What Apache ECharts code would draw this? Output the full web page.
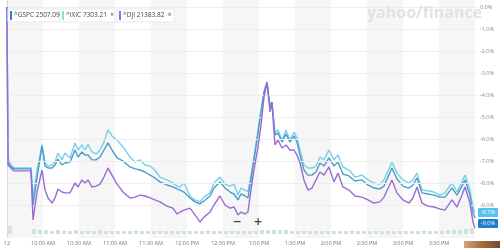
<!DOCTYPE html>
<html><head><meta charset="utf-8">
<script src="https://cdn.jsdelivr.net/npm/echarts@6/dist/echarts.min.js"></script>
<style>html,body{margin:0;padding:0;background:#fff}#c{width:500px;height:248px}</style>
</head><body><div id="c"></div>
<script>
// minutes since 9:30 AM
const times = [0,0.8,3.3,5.8,12.5,20,21.7,25,29.2,31.7,34.2,37.5,40,42.5,45.8,48.3,52.5,56.7,59.2,62.5,65,67.5,70.8,74.2,77.5,80.8,84.2,87.5,91.7,96.7,102.5,106.7,110.8,115,119.2,123.3,127.5,133.3,138.3,141.7,144.2,147.5,152.5,156.7,160.8,164.2,169.2,172.5,177.5,181.7,185.8,189.2,192.5,195,198.3,200.8,203.3,205.8,209.2,211.7,214.2,216.7,219.2,220.8,223.3,225.8,229.2,232.5,235.8,239.2,241.7,244.2,247.5,250.8,254.2,257.5,260.8,264.2,268.3,272.5,275.8,280,285,290,295.8,300.8,305.8,310.8,314.2,320.8,325,330,335,338.3,341.7,345.8,350.8,355.8,360.8,365,370.8,375,379.2,381.7,385.8,388.3,390];

const ixic = [0,-6.86,-7.18,-7.32,-7.32,-7.32,-8.64,-7.41,-6.27,-7.09,
-7.23,-7.18,-7.05,-6.64,-6.95,-6.64,-6.86,-6.18,-6.50,-6.27,
-6.50,-6.23,-6.59,-6.68,-6.50,-6.14,-5.59,-5.86,-6.05,-6.36,
-6.82,-7.05,-6.95,-7.18,-7.23,-7.41,-7.73,-7.86,-8.00,-8.14,
-8.18,-8.00,-8.59,-8.77,-8.86,-8.64,-8.45,-8.00,-7.73,-8.05,
-8.14,-8.05,-8.55,-8.23,-8.32,-8.41,-7.64,-6.86,-5.59,-4.68,
-3.86,-3.41,-4.55,-4.32,-5.73,-5.59,-6.05,-5.59,-6.05,-5.68,
-5.95,-6.50,-7.18,-7.32,-7.32,-7.23,-6.82,-6.95,-6.50,-6.95,
-6.73,-7.27,-7.41,-7.73,-7.64,-7.86,-8.00,-8.05,-7.86,-7.05,
-7.55,-7.86,-8.00,-7.86,-7.55,-8.32,-8.36,-8.41,-8.55,-8.45,
-8.00,-8.41,-7.95,-7.64,-8.32,-9.09,-9.36];

const gspc = [0,-7.05,-7.27,-7.36,-7.36,-7.36,-9.00,-7.77,-6.32,-7.23,
-7.32,-7.32,-7.18,-6.91,-7.18,-7.09,-7.05,-6.50,-6.82,-6.59,
-6.73,-6.73,-6.95,-6.95,-6.82,-6.50,-6.18,-6.50,-6.86,-7.00,
-7.27,-7.36,-7.41,-7.50,-7.64,-7.77,-7.95,-8.09,-8.18,-8.27,
-8.32,-8.41,-8.68,-8.86,-8.95,-8.82,-8.59,-8.23,-7.95,-8.23,
-8.41,-8.50,-8.77,-8.50,-8.59,-8.68,-7.86,-6.95,-5.73,-4.77,
-3.86,-3.41,-4.55,-4.32,-5.82,-5.73,-6.14,-5.77,-6.14,-5.86,
-6.14,-6.73,-7.41,-7.64,-7.64,-7.50,-7.09,-7.23,-6.86,-7.23,
-7.05,-7.59,-7.68,-7.91,-7.86,-8.09,-8.23,-8.27,-8.14,-7.32,
-7.82,-8.14,-8.23,-8.09,-7.77,-8.45,-8.50,-8.55,-8.64,-8.64,
-8.23,-8.55,-8.14,-7.86,-8.55,-9.36,-9.59];

const dji = [0,-7.18,-7.32,-7.45,-7.45,-7.45,-9.68,-8.41,-7.41,-8.32,
-8.68,-8.91,-8.68,-8.27,-8.41,-8.45,-8.45,-8.00,-8.18,-7.86,
-8.00,-7.86,-8.18,-8.14,-8.05,-7.73,-7.32,-7.64,-8.05,-8.41,
-8.68,-8.64,-8.55,-8.59,-8.68,-8.77,-8.86,-9.05,-9.14,-9.41,
-9.32,-9.23,-9.14,-9.45,-9.77,-9.55,-9.32,-9.00,-8.59,-9.00,
-9.14,-9.09,-9.45,-9.32,-9.41,-9.32,-8.32,-7.41,-6.36,-5.36,
-4.09,-3.45,-4.77,-4.36,-6.27,-6.05,-6.41,-6.27,-6.50,-6.50,
-6.73,-7.09,-7.86,-8.32,-8.23,-7.86,-7.50,-7.64,-7.27,-7.95,
-7.55,-8.18,-8.32,-8.59,-8.64,-8.77,-8.91,-8.86,-8.64,-7.86,
-8.45,-8.77,-8.91,-8.68,-8.18,-8.91,-9.05,-9.09,-9.18,-9.23,
-8.77,-9.09,-8.55,-8.18,-8.91,-9.77,-10.05];

// 5-minute volume bins starting 9:30
const volume = [8,0,0,0,5,4,4,3,4,3, 3,4,3,3,3,4,3,3,3,3, 3,3,3,3,3,3,3,3,3,3, 3,3,3,3,3,3,3,3,3,3, 3,3,4,4,4,4,4,3,3,3, 3,3,3,3,3,3,3,3,3,3, 3,3,3,3,3,3,3,3,3,3, 3,3,3,4,4,4,5,6];

const xLabels = ['12','10:00 AM','10:30 AM','11:00 AM','11:30 AM','12:00 PM','12:30 PM','1:00 PM','1:30 PM','2:00 PM','2:30 PM','3:00 PM','3:30 PM'];
const yTicks = [0,-1,-2,-3,-4,-5,-6,-7,-8,-9];
const bands = [[0,30],[60,90],[120,150],[180,210],[240,270],[300,330],[360,390]];

const legendItems = [
  {name:'^GSPC', price:'2507.09', color:'#2f7fd1', close:false},
  {name:'^IXIC', price:'7303.21', color:'#8fd8ee', close:true},
  {name:'^DJI', price:'21383.82', color:'#9a6bd2', close:true}
];
const tags = [
  {text:'-8.7%', color:'#56c3ea'},
  {text:'-9.0%', color:'#1f7fd0'}
];

const chart = echarts.init(document.getElementById('c'), null, {renderer:'canvas'});

const XMAX = 391.7;
const graphic = [];
// watermark
graphic.push({type:'text', left:367, top:5, z:50, silent:true,
  style:{text:'yahoo/finance', fill:'#e2e2e2', font:'bold 16px "Open Sans", sans-serif'}});
// legend boxes
const legendX = [8, 60, 117];
const legendW = [51, 55, 57];
legendItems.forEach((it, i) => {
  const x = legendX[i];
  graphic.push({type:'rect', shape:{x:x, y:9, width:legendW[i], height:13}, style:{fill:'#fff', stroke:'#e8e8e8', lineWidth:1}, z:60});
  graphic.push({type:'rect', shape:{x:x+2, y:11, width:2, height:9}, style:{fill:it.color}, z:61});
  graphic.push({type:'text', x:x+6, y:15.5, z:61, style:{text:it.name + ' ' + it.price + (it.close ? '  ×' : ''), fill:'#444', font:'6.5px "Open Sans", sans-serif', verticalAlign:'middle'}});
});
// zoom buttons
graphic.push({type:'text', x:237, y:222, z:61, style:{text:'−', fill:'#444', font:'bold 11px "DejaVu Sans", sans-serif', align:'center', verticalAlign:'middle'}});
graphic.push({type:'text', x:258, y:222, z:61, style:{text:'+', fill:'#444', font:'bold 11px "DejaVu Sans", sans-serif', align:'center', verticalAlign:'middle'}});
// right tags
tags.forEach((t, i) => {
  const y = 208 + i * 11;
  graphic.push({type:'rect', shape:{x:478, y:y, width:20, height:9, r:1}, style:{fill:t.color}, z:62});
  graphic.push({type:'text', x:488, y:y+4.5, z:63, style:{text:t.text, fill:'#fff', font:'5.5px "Open Sans", sans-serif', align:'center', verticalAlign:'middle'}});
});
// bottom-right image fragment
graphic.push({type:'rect', shape:{x:464, y:241, width:36, height:7}, z:62,
  style:{fill:new echarts.graphic.LinearGradient(0,0,1,0,[{offset:0,color:'#d6a57a'},{offset:0.5,color:'#a86a3e'},{offset:1,color:'#6b4a3a'}])}});

const lineSeries = (name, arr, color, z) => ({
  name, type:'line', xAxisIndex:0, yAxisIndex:0, z,
  data: times.map((t, i) => [t, arr[i]]),
  showSymbol:false, symbol:'none', smooth:false, animation:false,
  lineStyle:{color, width:1.4}, itemStyle:{color}
});

chart.setOption({
  animation:false,
  grid:[
    {left:7, right:23, top:-4, height:242, containLabel:false, outerBoundsMode:'none'},
    {left:7, right:23, top:222, height:12, containLabel:false, outerBoundsMode:'none'}
  ],
  xAxis:[
    {type:'value', gridIndex:0, min:0, max:XMAX, interval:30,
      axisLine:{show:true, lineStyle:{color:'#e4e4e4'}}, axisTick:{show:false}, splitLine:{show:false},
      axisLabel:{show:true, margin:2, fontSize:5.5, color:'#777', fontFamily:'"Open Sans", sans-serif',
        formatter:v => { const k = Math.round(v/30); return (Math.abs(v - k*30) < 0.01 && k < xLabels.length) ? xLabels[k] : ''; }}},
    {type:'value', gridIndex:1, min:0, max:XMAX, show:false}
  ],
  yAxis:[
    {type:'value', gridIndex:0, position:'right', min:-10.5, max:0.5, interval:0.5,
      axisLine:{show:true, lineStyle:{color:'#e4e4e4'}}, axisTick:{show:false}, splitLine:{show:false},
      axisLabel:{margin:3, fontSize:5.5, color:'#888', fontFamily:'"Open Sans", sans-serif',
        formatter:v => yTicks.some(t => Math.abs(t - v) < 1e-6) ? v.toFixed(1).replace('-0.0','0.0') + '%' : ''}},
    {type:'value', gridIndex:1, min:0, max:12, show:false}
  ],
  series:[
    {type:'line', xAxisIndex:0, yAxisIndex:0, data:[], silent:true, z:0,
      markArea:{silent:true, itemStyle:{color:'#f6f6f6'}, data:bands.map(b => [{xAxis:b[0]},{xAxis:b[1]}])},
      markLine:{silent:true, symbol:'none', label:{show:false}, lineStyle:{color:'#eeeeee', width:1, type:'solid'},
        data: yTicks.map(t => ({yAxis:t})).concat([{xAxis:0, lineStyle:{color:'#d8d8d8'}}])}},
    {type:'bar', xAxisIndex:1, yAxisIndex:1, barWidth:4, z:1, silent:true,
      data: volume.map((v, i) => [2.5 + 5*i, v]), itemStyle:{color:'#cfe4d6'}},
    lineSeries('^IXIC', ixic, '#74d0ea', 3),
    lineSeries('^GSPC', gspc, '#4c9cc6', 4),
    lineSeries('^DJI', dji, '#9a6bd2', 5)
  ],
  graphic
});
</script>
</body></html>
